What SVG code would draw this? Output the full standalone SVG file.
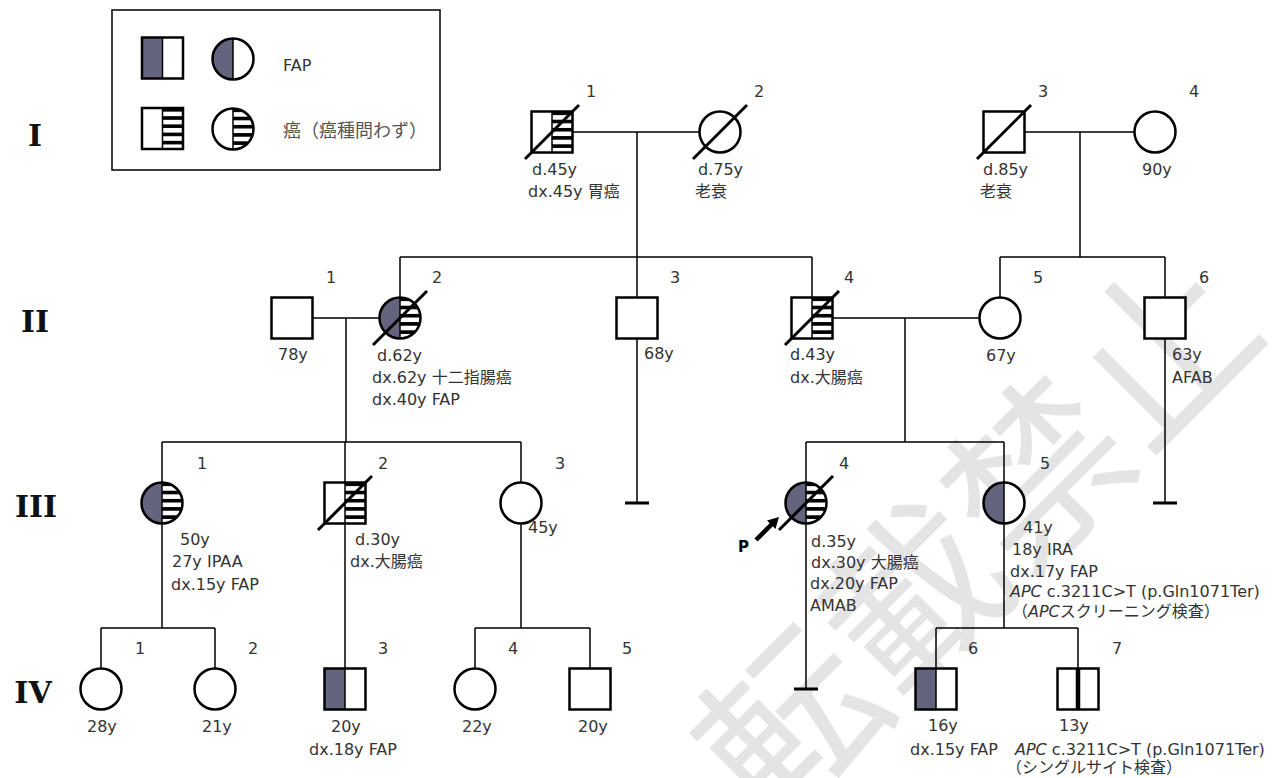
<svg xmlns="http://www.w3.org/2000/svg" xmlns:xlink="http://www.w3.org/1999/xlink" width="1276" height="778" viewBox="0 0 1276 778">
<style>
.sym{fill:none;stroke:#000;stroke-width:2.5}
.bg{fill:#fff}
.fap{fill:#65647f}
.st{fill:url(#st)}
.mid{stroke:#000;stroke-width:1.5}
.dec{stroke:#000;stroke-width:3}
.con{stroke:#000;stroke-width:1.5;fill:none}
.bar{stroke:#000;stroke-width:3}
.t{font-family:"DejaVu Sans","Noto Sans CJK JP",sans-serif;font-size:16px;fill:#333}
.gen{font-family:"DejaVu Serif",serif;font-weight:bold;font-size:30px;fill:#111;text-anchor:middle}
.wm{font-family:"Noto Sans CJK JP",sans-serif;font-size:176px;fill:#e4e4e4}
</style>
<defs>
<pattern id="st" patternUnits="objectBoundingBox" width="1" height="0.2">
<rect x="0" y="0" width="60" height="3.6" fill="#000"/>
</pattern>
<rect id="sq" x="-20.5" y="-20.5" width="41" height="41"/>
<rect id="sqL" x="-20.5" y="-20.5" width="20.5" height="41"/>
<rect id="sqR" x="0" y="-20.5" width="20.5" height="41"/>
<circle id="ci" r="20.5"/>
<path id="ciL" d="M0,-20.5A20.5,20.5 0 0 0 0,20.5Z"/>
<path id="ciR" d="M0,-20.5A20.5,20.5 0 0 1 0,20.5Z"/>
<line id="midv" x1="0" y1="-20.5" x2="0" y2="20.5"/>
<line id="dead" x1="-27" y1="27" x2="27" y2="-27"/>
</defs>
<rect width="1276" height="778" fill="#fff"/>
<text class="wm" x="968" y="528" transform="rotate(-45 968 528)" text-anchor="middle" dominant-baseline="central">転載禁止</text>

<g id="legend">
<rect x="112" y="10" width="328" height="160" fill="none" stroke="#000" stroke-width="1.5"/>
<g transform="translate(162.5,58)"><use href="#sq" class="bg"/><use href="#sqL" class="fap"/><use href="#midv" class="mid"/><use href="#sq" class="sym"/></g>
<g transform="translate(233,59)"><use href="#ci" class="bg"/><use href="#ciL" class="fap"/><use href="#midv" class="mid"/><use href="#ci" class="sym"/></g>
<text class="t" x="283" y="71">FAP</text>
<g transform="translate(162.5,128.5)"><use href="#sq" class="bg"/><use href="#sqR" class="st"/><use href="#midv" class="mid"/><use href="#sq" class="sym"/></g>
<g transform="translate(233,129)"><use href="#ci" class="bg"/><use href="#ciR" class="st"/><use href="#midv" class="mid"/><use href="#ci" class="sym"/></g>
<text class="t" x="283" y="137" style="font-size:18px;fill:#555">癌（癌種問わず）</text>
</g>

<g id="generations">
<text class="gen" x="35" y="146">I</text>
<text class="gen" x="35" y="332">II</text>
<text class="gen" x="36" y="517">III</text>
<text class="gen" x="33" y="703">IV</text>
</g>

<g id="connectors">
<path class="con" d="M572.5,132H699.5M637,132V297.5M400,257H812M400,257V297.5M812,257V297.5"/>
<path class="con" d="M1024.5,132H1134.5M1080,132V257M1000,257H1165M1000,257V297.5M1165,257V297.5"/>
<path class="con" d="M312.5,318H379.5M346,318V442M162,442H521M162,442V482.5M345,442V482.5M521,442V482.5"/>
<path class="con" d="M637,338.5V503M1165,338.5V503"/>
<path class="bar" d="M625,503H649M1153,503H1177"/>
<path class="con" d="M832.5,318H979.5M905,318V442M806,442H1004M806,442V482.5M1004,442V482.5"/>
<path class="con" d="M162,523.5V628M101,628H215M101,628V668.5M215,628V668.5"/>
<path class="con" d="M345,523.5V668.5"/>
<path class="con" d="M521,523.5V628M475,628H590M475,628V668.5M590,628V668.5"/>
<path class="con" d="M806,523.5V689"/>
<path class="bar" d="M794,689H818"/>
<path class="con" d="M1004,523.5V628M936,628H1078M936,628V668.5M1078,628V668.5"/>
</g>

<g id="I-1">
<g transform="translate(552,132)"><use href="#sq" class="bg"/><use href="#sqR" class="st"/><use href="#midv" class="mid"/><use href="#sq" class="sym"/><use href="#dead" class="dec"/></g>
<text class="t" x="586" y="97">1</text>
<text class="t" x="532" y="175">d.45y</text>
<text class="t" x="528" y="197">dx.45y 胃癌</text>
</g>
<g id="I-2">
<g transform="translate(720,132)"><use href="#ci" class="bg"/><use href="#ci" class="sym"/><use href="#dead" class="dec"/></g>
<text class="t" x="754" y="97">2</text>
<text class="t" x="698" y="175">d.75y</text>
<text class="t" x="695" y="197">老衰</text>
</g>
<g id="I-3">
<g transform="translate(1004,132)"><use href="#sq" class="bg"/><use href="#sq" class="sym"/><use href="#dead" class="dec"/></g>
<text class="t" x="1038" y="97">3</text>
<text class="t" x="983" y="175">d.85y</text>
<text class="t" x="980" y="197">老衰</text>
</g>
<g id="I-4">
<g transform="translate(1155,132)"><use href="#ci" class="bg"/><use href="#ci" class="sym"/></g>
<text class="t" x="1189" y="97">4</text>
<text class="t" x="1142" y="175">90y</text>
</g>

<g id="II-1">
<g transform="translate(292,318)"><use href="#sq" class="bg"/><use href="#sq" class="sym"/></g>
<text class="t" x="326" y="283">1</text>
<text class="t" x="278" y="360">78y</text>
</g>
<g id="II-2">
<g transform="translate(400,318)"><use href="#ci" class="bg"/><use href="#ciL" class="fap"/><use href="#ciR" class="st"/><use href="#midv" class="mid"/><use href="#ci" class="sym"/><use href="#dead" class="dec"/></g>
<text class="t" x="432" y="283">2</text>
<text class="t" x="377" y="361">d.62y</text>
<text class="t" x="372" y="383">dx.62y 十二指腸癌</text>
<text class="t" x="372" y="405">dx.40y FAP</text>
</g>
<g id="II-3">
<g transform="translate(637,318)"><use href="#sq" class="bg"/><use href="#sq" class="sym"/></g>
<text class="t" x="670" y="283">3</text>
<text class="t" x="644" y="359">68y</text>
</g>
<g id="II-4">
<g transform="translate(812,318)"><use href="#sq" class="bg"/><use href="#sqR" class="st"/><use href="#midv" class="mid"/><use href="#sq" class="sym"/><use href="#dead" class="dec"/></g>
<text class="t" x="844" y="283">4</text>
<text class="t" x="790" y="360">d.43y</text>
<text class="t" x="790" y="383">dx.大腸癌</text>
</g>
<g id="II-5">
<g transform="translate(1000,318)"><use href="#ci" class="bg"/><use href="#ci" class="sym"/></g>
<text class="t" x="1033" y="283">5</text>
<text class="t" x="986" y="361">67y</text>
</g>
<g id="II-6">
<g transform="translate(1165,318)"><use href="#sq" class="bg"/><use href="#sq" class="sym"/></g>
<text class="t" x="1199" y="283">6</text>
<text class="t" x="1172" y="360">63y</text>
<text class="t" x="1172" y="383">AFAB</text>
</g>

<g id="III-1">
<g transform="translate(162,503)"><use href="#ci" class="bg"/><use href="#ciL" class="fap"/><use href="#ciR" class="st"/><use href="#midv" class="mid"/><use href="#ci" class="sym"/></g>
<text class="t" x="197" y="469">1</text>
<text class="t" x="180" y="545">50y</text>
<text class="t" x="172" y="567">27y IPAA</text>
<text class="t" x="171" y="590">dx.15y FAP</text>
</g>
<g id="III-2">
<g transform="translate(345,503)"><use href="#sq" class="bg"/><use href="#sqR" class="st"/><use href="#midv" class="mid"/><use href="#sq" class="sym"/><use href="#dead" class="dec"/></g>
<text class="t" x="378" y="469">2</text>
<text class="t" x="355" y="545">d.30y</text>
<text class="t" x="350" y="567">dx.大腸癌</text>
</g>
<g id="III-3">
<g transform="translate(521,503)"><use href="#ci" class="bg"/><use href="#ci" class="sym"/></g>
<text class="t" x="555" y="469">3</text>
<text class="t" x="528" y="533">45y</text>
</g>
<g id="III-4">
<g transform="translate(806,503)"><use href="#ci" class="bg"/><use href="#ciL" class="fap"/><use href="#ciR" class="st"/><use href="#midv" class="mid"/><use href="#ci" class="sym"/><use href="#dead" class="dec"/></g>
<line x1="756" y1="540" x2="772" y2="524" stroke="#000" stroke-width="4.5"/>
<polygon points="779,517 775.5,529.1 767,520.6" fill="#000"/>
<text x="738" y="552" style="font-family:'DejaVu Sans',sans-serif;font-weight:bold;font-size:15px;fill:#000">P</text>
<text class="t" x="839" y="469">4</text>
<text class="t" x="811" y="547">d.35y</text>
<text class="t" x="811" y="568">dx.30y 大腸癌</text>
<text class="t" x="810" y="589">dx.20y FAP</text>
<text class="t" x="810" y="611">AMAB</text>
</g>
<g id="III-5">
<g transform="translate(1004,503)"><use href="#ci" class="bg"/><use href="#ciL" class="fap"/><use href="#midv" class="mid"/><use href="#ci" class="sym"/></g>
<text class="t" x="1040" y="469">5</text>
<text class="t" x="1023" y="533">41y</text>
<text class="t" x="1012" y="555">18y IRA</text>
<text class="t" x="1010" y="577">dx.17y FAP</text>
<text class="t" x="1010" y="597"><tspan font-style="italic">APC</tspan> c.3211C&gt;T (p.Gln1071Ter)</text>
<text class="t" x="1012" y="617">（<tspan font-style="italic">APC</tspan>スクリーニング検査）</text>
</g>

<g id="IV-1">
<g transform="translate(101,689)"><use href="#ci" class="bg"/><use href="#ci" class="sym"/></g>
<text class="t" x="135" y="654">1</text>
<text class="t" x="87" y="732">28y</text>
</g>
<g id="IV-2">
<g transform="translate(215,689)"><use href="#ci" class="bg"/><use href="#ci" class="sym"/></g>
<text class="t" x="248" y="654">2</text>
<text class="t" x="202" y="732">21y</text>
</g>
<g id="IV-3">
<g transform="translate(345,689)"><use href="#sq" class="bg"/><use href="#sqL" class="fap"/><use href="#midv" class="mid"/><use href="#sq" class="sym"/></g>
<text class="t" x="378" y="654">3</text>
<text class="t" x="331" y="732">20y</text>
<text class="t" x="309" y="755">dx.18y FAP</text>
</g>
<g id="IV-4">
<g transform="translate(475,689)"><use href="#ci" class="bg"/><use href="#ci" class="sym"/></g>
<text class="t" x="508" y="654">4</text>
<text class="t" x="462" y="732">22y</text>
</g>
<g id="IV-5">
<g transform="translate(590,689)"><use href="#sq" class="bg"/><use href="#sq" class="sym"/></g>
<text class="t" x="622" y="654">5</text>
<text class="t" x="578" y="732">20y</text>
</g>
<g id="IV-6">
<g transform="translate(936,689)"><use href="#sq" class="bg"/><use href="#sqL" class="fap"/><use href="#midv" class="mid"/><use href="#sq" class="sym"/></g>
<text class="t" x="968" y="654">6</text>
<text class="t" x="928" y="731">16y</text>
<text class="t" x="910" y="755">dx.15y FAP</text>
</g>
<g id="IV-7">
<g transform="translate(1078,689)"><use href="#sq" class="bg"/><line x1="0" y1="-20.5" x2="0" y2="20.5" stroke="#000" stroke-width="4.5"/><use href="#sq" class="sym"/></g>
<text class="t" x="1112" y="654">7</text>
<text class="t" x="1059" y="731">13y</text>
<text class="t" x="1015" y="755"><tspan font-style="italic">APC</tspan> c.3211C&gt;T (p.Gln1071Ter)</text>
<text class="t" x="1006" y="773">（シングルサイト検査）</text>
</g>
</svg>
